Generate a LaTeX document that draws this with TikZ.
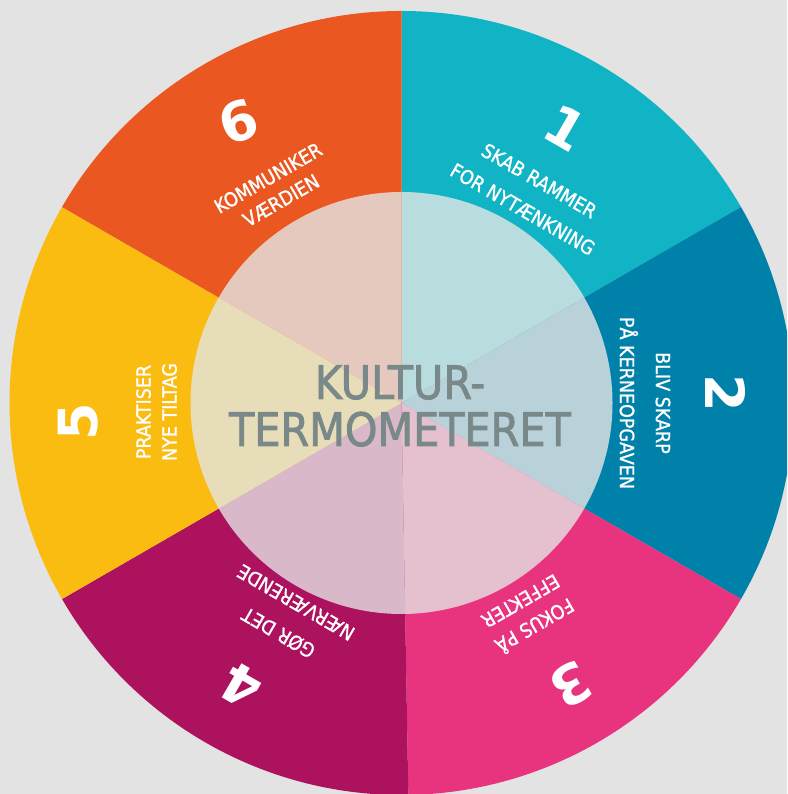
\documentclass[tikz,border=0pt]{standalone}
\usepackage{fontspec}
\setmainfont{DejaVu Sans Condensed}
\newfontfamily\labfam[FakeBold=1.2]{DejaVu Sans Condensed}
\newfontfamily\titfam[FakeBold=1.8]{DejaVu Sans Condensed}
\newfontfamily\numfont{DejaVu Sans}
\definecolor{bg}{HTML}{E3E3E3}
\definecolor{c1}{HTML}{10B4C5}
\definecolor{c2}{HTML}{0081A9}
\definecolor{c3}{HTML}{E8347F}
\definecolor{c4}{HTML}{AD125F}
\definecolor{c5}{HTML}{FBBC12}
\definecolor{c6}{HTML}{EA5721}
\definecolor{p1}{HTML}{B9DCDF}
\definecolor{p2}{HTML}{B9D2DA}
\definecolor{p3}{HTML}{E5C0CF}
\definecolor{p4}{HTML}{D9B8C9}
\definecolor{p5}{HTML}{E8DDB9}
\definecolor{p6}{HTML}{E6C9BE}
\definecolor{cgrey}{HTML}{798989}
\newcommand\mysector[4]{\fill[#1] (c) -- ++(#2:#4) arc[start angle=#2,end angle=#3,radius=#4] -- cycle;}
\newcommand\labfont[1]{\labfam\fontsize{19.5}{#1}\selectfont}
\tikzset{
  lab/.style={text=white, align=center, inner sep=0pt},
  num/.style={text=white, inner sep=0pt, font=\numfont\bfseries\fontsize{54}{54}\selectfont},
}
\begin{document}
\begin{tikzpicture}[x=1pt,y=1pt]
\useasboundingbox (0,0) rectangle (787,794);
\fill[bg] (0,0) rectangle (787,794);
\begin{scope}
\clip (0,0) rectangle (787,794);
\coordinate (c) at (401.5,391);
\mysector{c1}{30}{90}{392}
\mysector{c2}{-30}{30}{392}
\mysector{c3}{-89}{-30}{392}
\mysector{c4}{210}{271}{392}
\mysector{c5}{150}{210}{392}
\mysector{c6}{90}{150}{392}
\mysector{p1}{30}{90}{211}
\mysector{p2}{-30}{30}{211}
\mysector{p3}{-89}{-30}{211}
\mysector{p4}{210}{271}{211}
\mysector{p5}{150}{210}{211}
\mysector{p6}{90}{150}{211}
\end{scope}
\node[lab, rotate=-30, font=\labfont{33}] (t1) at (531,599) {SKAB RAMMER\\FOR NYTÆNKNING};
\node[lab, rotate=-90, font=\labfont{36}] (t2) at (645,391) {BLIV SKARP\\PÅ KERNEOPGAVEN};
\node[lab, rotate=-150, font=\labfont{28}] (t3) at (528.5,179) {FOKUS PÅ\\EFFEKTER};
\node[lab, rotate=150, font=\labfont{35}] (t4) at (287,176) {GØR DET\\NÆRVÆRENDE};
\node[lab, rotate=90, font=\labfont{26}] (t5) at (156.5,382) {PRAKTISER\\NYE TILTAG};
\node[lab, rotate=30, font=\labfont{26}] (t6) at (274.5,605) {KOMMUNIKER\\VÆRDIEN};
\node[num, rotate=-30] (n1) at (566,666) {1};
\node[num, rotate=-90] (n2) at (726,401) {2};
\node[num, rotate=-150] (n3) at (571,109) {3};
\node[num, rotate=150] (n4) at (241,108) {4};
\node[num, rotate=90] (n5) at (78,372) {5};
\node[num, rotate=20] (n6) at (238,672) {6};
\node[text=cgrey, align=center, inner sep=0pt, font=\titfam\fontsize{46}{47}\selectfont] (title) at (400,388) {KULTUR-\\TERMOMETERET};
\end{tikzpicture}
\end{document}
